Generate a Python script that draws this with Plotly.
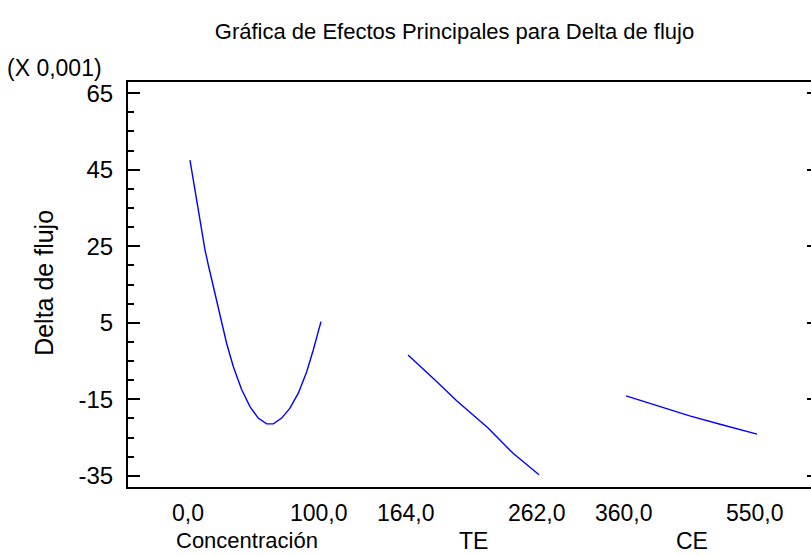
import plotly.graph_objects as go

# Factor levels (low, high) and their axis labels
factor_names = ["Concentración", "TE", "CE"]
factor_low = [0.0, 164.0, 360.0]
factor_high = [100.0, 262.0, 550.0]
level_labels = [["0,0", "100,0"], ["164,0", "262,0"], ["360,0", "550,0"]]

# Main effect curves (response in units of 0.001)
conc_x = [0.0, 3.8, 7.6, 11.5, 14.0, 17.8, 22.9, 28.0, 33.1, 39.5, 45.8, 52.1,
          58.5, 63.6, 70.0, 76.3, 82.7, 89.1, 94.1, 100.0]
conc_y = [47.5, 39.7, 31.0, 24.0, 20.1, 14.4, 6.6, -0.4, -6.5, -12.5, -16.9, -19.9,
          -21.4, -21.4, -19.9, -17.3, -13.4, -7.8, -2.1, 5.3]

te_x = [164.0, 174.0, 184.0, 200.2, 223.9, 242.6, 262.0]
te_y = [-3.4, -6.6, -9.9, -15.3, -22.5, -29.1, -34.7]

ce_x = [360.0, 404.3, 452.3, 500.4, 550.0]
ce_y = [-14.1, -16.5, -19.3, -21.7, -24.1]

y_ticks = [-35, -15, 5, 25, 45, 65]

# Each factor occupies one unit-wide slot on a shared x axis
SLOT_STEP = 218 / 131


def to_slot(i, values):
    lo, hi = factor_low[i], factor_high[i]
    return [i * SLOT_STEP + (v - lo) / (hi - lo) for v in values]


BLUE = "#0000FF"
FONT = "Liberation Sans, Arial, sans-serif"

fig = go.Figure()
for i, (xs, ys) in enumerate([(conc_x, conc_y), (te_x, te_y), (ce_x, ce_y)]):
    fig.add_trace(go.Scatter(
        x=to_slot(i, xs), y=ys, mode="lines",
        line=dict(color=BLUE, width=1.4), showlegend=False, hoverinfo="skip",
    ))

# invisible trace that anchors the right-hand tick axis
fig.add_trace(go.Scatter(x=[0], y=[0], yaxis="y2", mode="markers",
                         marker=dict(opacity=0), showlegend=False, hoverinfo="skip"))

y_range = [-37.9, 67.9]
x_range = [-0.473, 4.740]

annotations = []
# level labels under each slot end, factor names below
for i in range(3):
    for j, lab in enumerate(level_labels[i]):
        annotations.append(dict(
            x=i * SLOT_STEP + j, y=-0.0642, xref="x", yref="paper",
            text=lab, showarrow=False, xanchor="center", yanchor="middle",
            xshift=-2, font=dict(family=FONT, size=23, color="black"),
        ))
annotations.append(dict(
    x=0, y=-0.1333, xref="x", yref="paper", text=factor_names[0],
    showarrow=False, xanchor="left", yanchor="middle", xshift=-16,
    font=dict(family=FONT, size=22, color="black"),
))
for i in (1, 2):
    annotations.append(dict(
        x=i * SLOT_STEP + 0.5, y=-0.1333, xref="x", yref="paper", text=factor_names[i],
        showarrow=False, xanchor="center", yanchor="middle",
        font=dict(family=FONT, size=23, color="black"),
    ))
# y axis title and scale factor
annotations.append(dict(
    x=-0.123, y=0.504, xref="paper", yref="paper", text="Delta de flujo",
    textangle=-90, showarrow=False, xanchor="center", yanchor="middle",
    font=dict(family=FONT, size=25, color="black"),
))
annotations.append(dict(
    x=-0.107, y=1.0346, xref="paper", yref="paper", text="(X 0,001)",
    showarrow=False, xanchor="center", yanchor="middle",
    font=dict(family=FONT, size=23, color="black"),
))

fig.update_layout(
    width=811, height=556,
    margin=dict(l=128, r=0, t=82, b=69),
    paper_bgcolor="white", plot_bgcolor="white",
    title=dict(text="Gráfica de Efectos Principales para Delta de flujo",
               x=454.5 / 811, xref="container", xanchor="center",
               y=1 - 31 / 556, yref="container", yanchor="middle",
               font=dict(family=FONT, size=22, color="black")),
    xaxis=dict(range=x_range, showgrid=False, zeroline=False,
               showline=True, linecolor="black", linewidth=2, mirror=True,
               ticks="", showticklabels=False),
    yaxis=dict(range=y_range, showgrid=False, zeroline=False,
               showline=True, linecolor="black", linewidth=2, mirror=False,
               tickmode="array", tickvals=y_ticks, ticktext=[str(t) for t in y_ticks],
               ticks="inside", ticklen=12, tickwidth=1.5, tickcolor="black",
               ticklabelstandoff=8,
               minor=dict(tickmode="linear", tick0=-35, dtick=5, ticks="inside",
                          ticklen=6, tickwidth=1.5, tickcolor="black"),
               tickfont=dict(family=FONT, size=24, color="black")),
    yaxis2=dict(range=y_range, overlaying="y", side="right", showgrid=False,
                zeroline=False, showline=False, showticklabels=False,
                tickmode="array", tickvals=y_ticks,
                ticks="inside", ticklen=4, tickwidth=1.5, tickcolor="black"),
    annotations=annotations,
)

fig.write_html("out.html")
